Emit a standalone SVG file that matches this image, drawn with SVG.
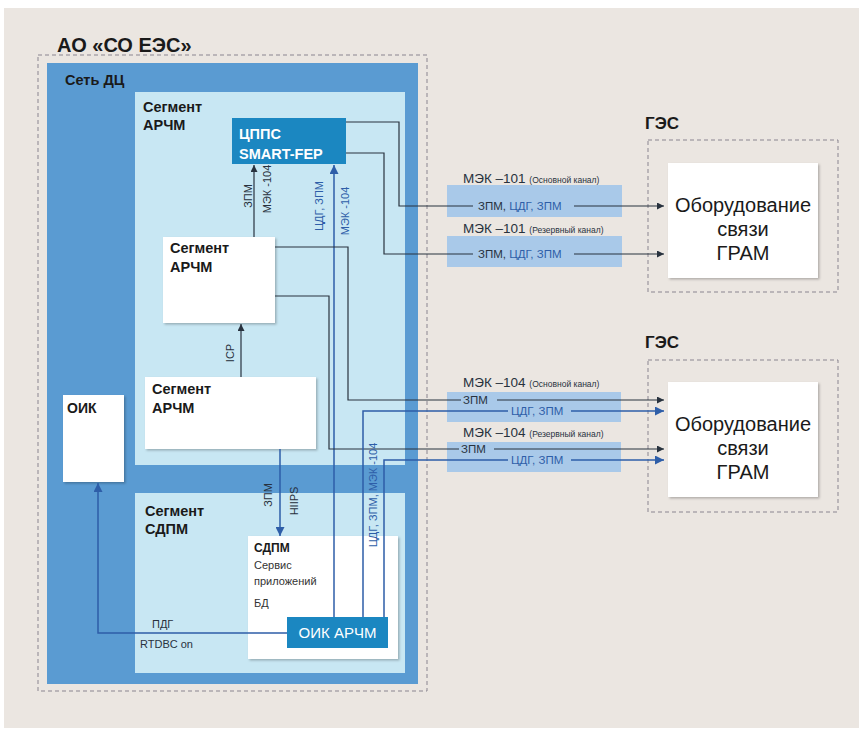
<svg xmlns="http://www.w3.org/2000/svg" width="863" height="731" viewBox="0 0 863 731">
<defs>
<style>
text{font-family:"Liberation Sans",Arial,sans-serif}
.dk{stroke:#28323e;stroke-width:1.2;fill:none}
.bl{stroke:#2e5ea8;stroke-width:1.5;fill:none}
.dash{stroke:#8a8590;stroke-width:1;stroke-dasharray:4,3;fill:none}
.white{fill:#ffffff}
.seg{fill:#c8e7f3}
.net{fill:#5a9bd2}
.dark-btn{fill:#1b87c1}
.chan{fill:#9dc3ea;opacity:0.85}
.h{font-weight:bold;fill:#1a1a1a}
.lbl{font-size:11px;fill:#28323e}
.lblb{font-size:11px;fill:#2e5ea8}
.big{font-size:20px;fill:#1a1a1a;text-anchor:middle}
</style>
<marker id="ad" viewBox="0 0 8 8" refX="8" refY="4" markerWidth="7" markerHeight="7" markerUnits="userSpaceOnUse" orient="auto"><path d="M0,0 L8,4 L0,8 z" fill="#28323e"/></marker>
<marker id="ab" viewBox="0 0 8 8" refX="8" refY="4" markerWidth="9" markerHeight="9" markerUnits="userSpaceOnUse" orient="auto"><path d="M0,0 L8,4 L0,8 z" fill="#2e5ea8"/></marker>
<filter id="sh" x="-10%" y="-10%" width="130%" height="130%"><feDropShadow dx="1.5" dy="1.5" stdDeviation="1.2" flood-color="#000" flood-opacity="0.25"/></filter>
</defs>

<rect width="863" height="731" fill="#ffffff"/>
<rect x="4" y="8" width="855" height="720" fill="#ebe6e1"/>

<g id="ao-so-ees">
<text x="57" y="52" class="h" font-size="20">АО «СО ЕЭС»</text>
<rect x="38" y="55" width="389" height="636" class="dash"/>
</g>

<g id="set-dc">
<rect x="47" y="63" width="371" height="621" class="net"/>
<text x="65" y="85" class="h" font-size="14.5" fill="#1c2a48">Сеть ДЦ</text>
</g>

<g id="segment-archm">
<rect x="135" y="92" width="270" height="373" class="seg"/>
<text x="143" y="112" class="h" font-size="14.5">Сегмент</text>
<text x="143" y="130" class="h" font-size="14.5">АРЧМ</text>
</g>

<g id="segment-sdpm">
<rect x="135" y="493" width="270" height="180" class="seg"/>
<text x="145" y="516" class="h" font-size="14.5">Сегмент</text>
<text x="145" y="534" class="h" font-size="14.5">СДПМ</text>
</g>

<g id="channel-boxes">
<rect x="447" y="185" width="175" height="32" class="chan"/>
<rect x="447" y="236" width="175" height="31" class="chan"/>
<rect x="447" y="392" width="174" height="30" class="chan"/>
<rect x="447" y="442" width="174" height="30" class="chan"/>
</g>

<g id="oik">
<rect x="63" y="395" width="61" height="87" class="white" filter="url(#sh)"/>
<text x="67" y="413" class="h" font-size="14">ОИК</text>
</g>

<g id="cpps">
<rect x="232" y="118" width="114" height="46" class="dark-btn"/>
<text x="239" y="139" font-size="14.5" font-weight="bold" fill="#ffffff">ЦППС</text>
<text x="239" y="159" font-size="14.5" font-weight="bold" fill="#ffffff">SMART-FEP</text>
</g>

<g id="segment-archm-2">
<rect x="163" y="237" width="112" height="86" class="white" filter="url(#sh)"/>
<text x="170" y="253" class="h" font-size="14.5">Сегмент</text>
<text x="170" y="272" class="h" font-size="14.5">АРЧМ</text>
</g>

<g id="segment-archm-3">
<rect x="145" y="377" width="171" height="72" class="white" filter="url(#sh)"/>
<text x="152" y="394" class="h" font-size="14.5">Сегмент</text>
<text x="152" y="413" class="h" font-size="14.5">АРЧМ</text>
</g>

<g id="sdpm">
<rect x="248" y="536" width="150" height="123" class="white" filter="url(#sh)"/>
<text x="254" y="552" class="h" font-size="12">СДПМ</text>
<text x="254" y="569" font-size="11" fill="#333">Сервис</text>
<text x="254" y="585" font-size="11" fill="#333">приложений</text>
<text x="254" y="607" font-size="11" fill="#333">БД</text>
</g>

<g id="oik-archm">
<rect x="287" y="617" width="101" height="31" class="dark-btn"/>
<text x="337.5" y="638" font-size="15" fill="#ffffff" text-anchor="middle">ОИК АРЧМ</text>
</g>

<g id="ges-1">
<text x="645" y="129" class="h" font-size="17">ГЭС</text>
<rect x="648" y="140" width="190" height="152" class="dash"/>
<rect x="668" y="163" width="150" height="115" class="white" filter="url(#sh)"/>
<text x="743" y="212" class="big">Оборудование</text>
<text x="743" y="236" class="big">связи</text>
<text x="743" y="260" class="big">ГРАМ</text>
</g>

<g id="ges-2">
<text x="645" y="348" class="h" font-size="17">ГЭС</text>
<rect x="648" y="360" width="190" height="152" class="dash"/>
<rect x="668" y="382" width="150" height="115" class="white" filter="url(#sh)"/>
<text x="743" y="431" class="big">Оборудование</text>
<text x="743" y="455" class="big">связи</text>
<text x="743" y="479" class="big">ГРАМ</text>
</g>

<g id="connectors">
<!-- ЦППС -> ГЭС1 -->
<polyline class="dk" points="346,122 399,122 399,206 473,206"/>
<line class="dk" x1="574" y1="206" x2="664" y2="206" marker-end="url(#ad)"/>
<polyline class="dk" points="346,153 384,153 384,254 473,254"/>
<line class="dk" x1="574" y1="254" x2="664" y2="254" marker-end="url(#ad)"/>
<!-- inner АРЧМ -> ЦППС -->
<line class="dk" x1="254" y1="237" x2="254" y2="165" marker-end="url(#ad)"/>
<!-- lower АРЧМ -> inner АРЧМ (ICP) -->
<line class="dk" x1="241" y1="377" x2="241" y2="324" marker-end="url(#ad)"/>
<!-- lower АРЧМ -> СДПМ -->
<line class="bl" x1="280" y1="449" x2="280" y2="536" marker-end="url(#ab)"/>
<!-- ОИК АРЧМ -> ЦППС -->
<line class="bl" x1="334" y1="617" x2="334" y2="165" marker-end="url(#ab)"/>
<!-- inner АРЧМ -> ГЭС2 -->
<polyline class="dk" points="275,247 348,247 348,400 461,400"/>
<line class="dk" x1="497" y1="400" x2="664" y2="400" marker-end="url(#ad)"/>
<polyline class="dk" points="275,296 329,296 329,449 459,449"/>
<line class="dk" x1="494" y1="449" x2="664" y2="449" marker-end="url(#ad)"/>
<!-- ОИК АРЧМ -> ГЭС2 -->
<polyline class="bl" points="363,617 363,411 508,411"/>
<line class="bl" x1="571" y1="411" x2="664" y2="411" marker-end="url(#ab)"/>
<polyline class="bl" points="384,617 384,460 508,460"/>
<line class="bl" x1="571" y1="460" x2="664" y2="460" marker-end="url(#ab)"/>
<!-- ОИК АРЧМ -> ОИК -->
<polyline class="bl" points="287,633 98,633 98,483" marker-end="url(#ab)"/>
</g>

<g id="connector-labels">
<text transform="translate(248,196) rotate(-90)" class="lbl" text-anchor="middle" dominant-baseline="central">ЗПМ</text>
<text transform="translate(267,189) rotate(-90)" class="lbl" text-anchor="middle" dominant-baseline="central">МЭК -104</text>
<text transform="translate(319,206) rotate(-90)" class="lblb" text-anchor="middle" dominant-baseline="central">ЦДГ, ЗПМ</text>
<text transform="translate(345,211) rotate(-90)" class="lblb" text-anchor="middle" dominant-baseline="central">МЭК -104</text>
<text transform="translate(230,353) rotate(-90)" class="lbl" text-anchor="middle" dominant-baseline="central">ICP</text>
<text transform="translate(268,495) rotate(-90)" class="lbl" text-anchor="middle" dominant-baseline="central">ЗПМ</text>
<text transform="translate(294,501) rotate(-90)" class="lbl" text-anchor="middle" dominant-baseline="central">HIIPS</text>
<text transform="translate(373,495) rotate(-90)" class="lblb" text-anchor="middle" dominant-baseline="central">ЦДГ, ЗПМ, МЭК -104</text>
<text x="152" y="628" class="lbl">ПДГ</text>
<text x="140" y="648" class="lbl">RTDBC on</text>

<text x="463" y="183" font-size="13.5" fill="#28323e">МЭК –101 <tspan font-size="8.5">(Основной канал)</tspan></text>
<text x="478" y="210" font-size="11.5" fill="#28323e">ЗПМ, <tspan fill="#2e5ea8">ЦДГ, ЗПМ</tspan></text>
<text x="463" y="233" font-size="13.5" fill="#28323e">МЭК –101 <tspan font-size="8.5">(Резервный канал)</tspan></text>
<text x="478" y="258" font-size="11.5" fill="#28323e">ЗПМ, <tspan fill="#2e5ea8">ЦДГ, ЗПМ</tspan></text>

<text x="463" y="387" font-size="13.5" fill="#28323e">МЭК –104 <tspan font-size="8.5">(Основной канал)</tspan></text>
<text x="463" y="404" font-size="11.5" fill="#28323e">ЗПМ</text>
<text x="511" y="415" font-size="11.5" fill="#2e5ea8">ЦДГ, ЗПМ</text>
<text x="463" y="437" font-size="13.5" fill="#28323e">МЭК –104 <tspan font-size="8.5">(Резервный канал)</tspan></text>
<text x="461" y="453" font-size="11.5" fill="#28323e">ЗПМ</text>
<text x="511" y="464" font-size="11.5" fill="#2e5ea8">ЦДГ, ЗПМ</text>
</g>
</svg>
